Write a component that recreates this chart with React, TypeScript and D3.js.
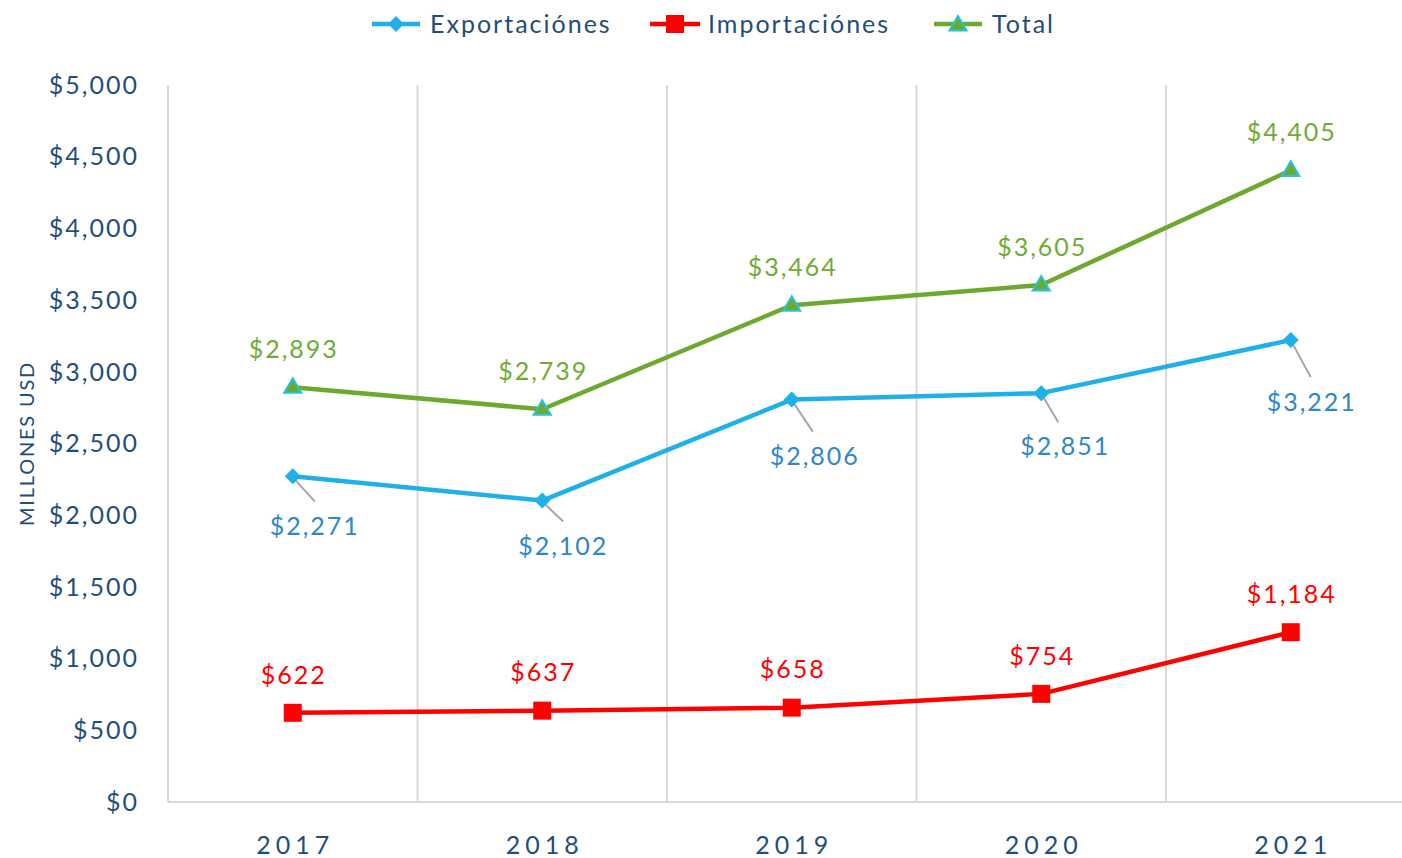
import React, { useEffect } from "react";
import * as d3 from "d3";

const years = ["2017", "2018", "2019", "2020", "2021"];
const exportaciones = [2271, 2102, 2806, 2851, 3221];
const importaciones = [622, 637, 658, 754, 1184];
const total = [2893, 2739, 3464, 3605, 4405];
const yTicks = [0, 500, 1000, 1500, 2000, 2500, 3000, 3500, 4000, 4500, 5000];

// layout of export label callouts (pixel offsets from the point)
const expLabelOffsets = [
  { lx: 22, ly: 25, tx: 21, ty: 50 },
  { lx: 21, ly: 21, tx: 20, ty: 46 },
  { lx: 21, ly: 32, tx: 22, ty: 57 },
  { lx: 17, ly: 29, tx: 23, ty: 53 },
  { lx: 20, ly: 37, tx: 20, ty: 62 },
];

const W = 1402;
const H = 858;
const FONT = "Lato, 'Open Sans', sans-serif";
const AXIS_COLOR = "#1F4E79";
const LS = 2;

const x = d3.scaleBand<string>().domain(years).range([168, 1415.5]);
const y = d3.scaleLinear().domain([0, 5000]).range([802, 85]);
const cx = (yr: string) => (x(yr) as number) + x.bandwidth() / 2;
const fmt = (v: number) => "$" + d3.format(",")(v);

const C_EXP = "#1EB0E6";
const C_EXP_LBL = "#2E87C8";
const C_IMP = "#FF0000";
const C_TOT = "#6EA92F";
const C_TOT_LBL = "#6FAC33";

export default function App() {
  useEffect(() => {
    document.body.style.margin = "0";
  }, []);

  const line = d3
    .line<number>()
    .x((_, i) => cx(years[i]))
    .y((d) => y(d));

  const diamond = (px: number, py: number, r: number) =>
    `M${px},${py - r}L${px + r},${py}L${px},${py + r}L${px - r},${py}Z`;
  const triangle = (px: number, py: number, s: number) =>
    `M${px},${py - s}L${px + s * 0.95},${py + s * 0.62}L${px - s * 0.95},${py + s * 0.62}Z`;

  const gridXs = years.map((yr) => x(yr) as number).concat([x.range()[1]]);

  return (
    <svg width={W} height={H} style={{ display: "block" }} fontFamily={FONT}>
      <rect width={W} height={H} fill="#fff" />
      {gridXs.map((gx, i) => (
        <line key={i} x1={gx} x2={gx} y1={y(5000)} y2={y(0)} stroke="#D9D9D9" strokeWidth={2} />
      ))}
      <line x1={168} x2={W} y1={y(0)} y2={y(0)} stroke="#D9D9D9" strokeWidth={2} />

      {yTicks.map((t) => (
        <text key={t} x={137 + LS} y={y(t)} dy="0.35em" textAnchor="end" fontSize={25} fill={AXIS_COLOR} letterSpacing={LS}>
          {fmt(t)}
        </text>
      ))}
      <text
        transform={`translate(34,${(y(0) + y(5000)) / 2}) rotate(-90)`}
        textAnchor="middle"
        fontSize={20}
        fill={AXIS_COLOR}
        letterSpacing={1.8}
      >
        MILLONES USD
      </text>

      {years.map((yr) => (
        <text key={yr} x={cx(yr) + 2.5} y={854} textAnchor="middle" fontSize={25} fill={AXIS_COLOR} letterSpacing={5}>
          {yr}
        </text>
      ))}

      <path d={line(total) as string} fill="none" stroke={C_TOT} strokeWidth={4.5} strokeLinejoin="round" />
      <path d={line(exportaciones) as string} fill="none" stroke={C_EXP} strokeWidth={4.5} strokeLinejoin="round" />
      <path d={line(importaciones) as string} fill="none" stroke={C_IMP} strokeWidth={4.5} strokeLinejoin="round" />

      {exportaciones.map((v, i) => {
        const px = cx(years[i]);
        const py = y(v);
        const o = expLabelOffsets[i];
        return (
          <line key={i} x1={px + 1} y1={py + 2} x2={px + o.lx} y2={py + o.ly} stroke="#A6A6A6" strokeWidth={2} />
        );
      })}

      {total.map((v, i) => (
        <path key={i} d={triangle(cx(years[i]), y(v), 9)} fill={C_TOT} stroke="#25C4DA" strokeWidth={2} />
      ))}
      {exportaciones.map((v, i) => (
        <path key={i} d={diamond(cx(years[i]), y(v), 8)} fill={C_EXP} />
      ))}
      {importaciones.map((v, i) => (
        <rect key={i} x={cx(years[i]) - 9} y={y(v) - 9} width={18} height={18} fill={C_IMP} />
      ))}

      {total.map((v, i) => (
        <text key={i} x={cx(years[i]) + LS / 2} y={y(v) - 38} dy="0.35em" textAnchor="middle" fontSize={25} fill={C_TOT_LBL} letterSpacing={LS}>
          {fmt(v)}
        </text>
      ))}
      {exportaciones.map((v, i) => (
        <text key={i} x={cx(years[i]) + expLabelOffsets[i].tx + LS / 2} y={y(v) + expLabelOffsets[i].ty} dy="0.35em" textAnchor="middle" fontSize={25} fill={C_EXP_LBL} letterSpacing={LS}>
          {fmt(v)}
        </text>
      ))}
      {importaciones.map((v, i) => (
        <text key={i} x={cx(years[i]) + LS / 2} y={y(v) - 38} dy="0.35em" textAnchor="middle" fontSize={25} fill={C_IMP} letterSpacing={LS}>
          {fmt(v)}
        </text>
      ))}

      <g>
        <line x1={372} x2={420} y1={24} y2={24} stroke={C_EXP} strokeWidth={4.5} />
        <path d={diamond(396, 24, 8)} fill={C_EXP} />
        <text x={430} y={24} dy="0.35em" fontSize={25} fill={AXIS_COLOR} letterSpacing={LS}>Exportaciónes</text>

        <line x1={650} x2={700} y1={24} y2={24} stroke={C_IMP} strokeWidth={4.5} />
        <rect x={666} y={15} width={18} height={18} fill={C_IMP} />
        <text x={708} y={24} dy="0.35em" fontSize={25} fill={AXIS_COLOR} letterSpacing={LS}>Importaciónes</text>

        <line x1={934} x2={982} y1={24} y2={24} stroke={C_TOT} strokeWidth={4.5} />
        <path d={triangle(958, 25, 9)} fill={C_TOT} stroke="#25C4DA" strokeWidth={2} />
        <text x={992} y={24} dy="0.35em" fontSize={25} fill={AXIS_COLOR} letterSpacing={LS}>Total</text>
      </g>
    </svg>
  );
}
